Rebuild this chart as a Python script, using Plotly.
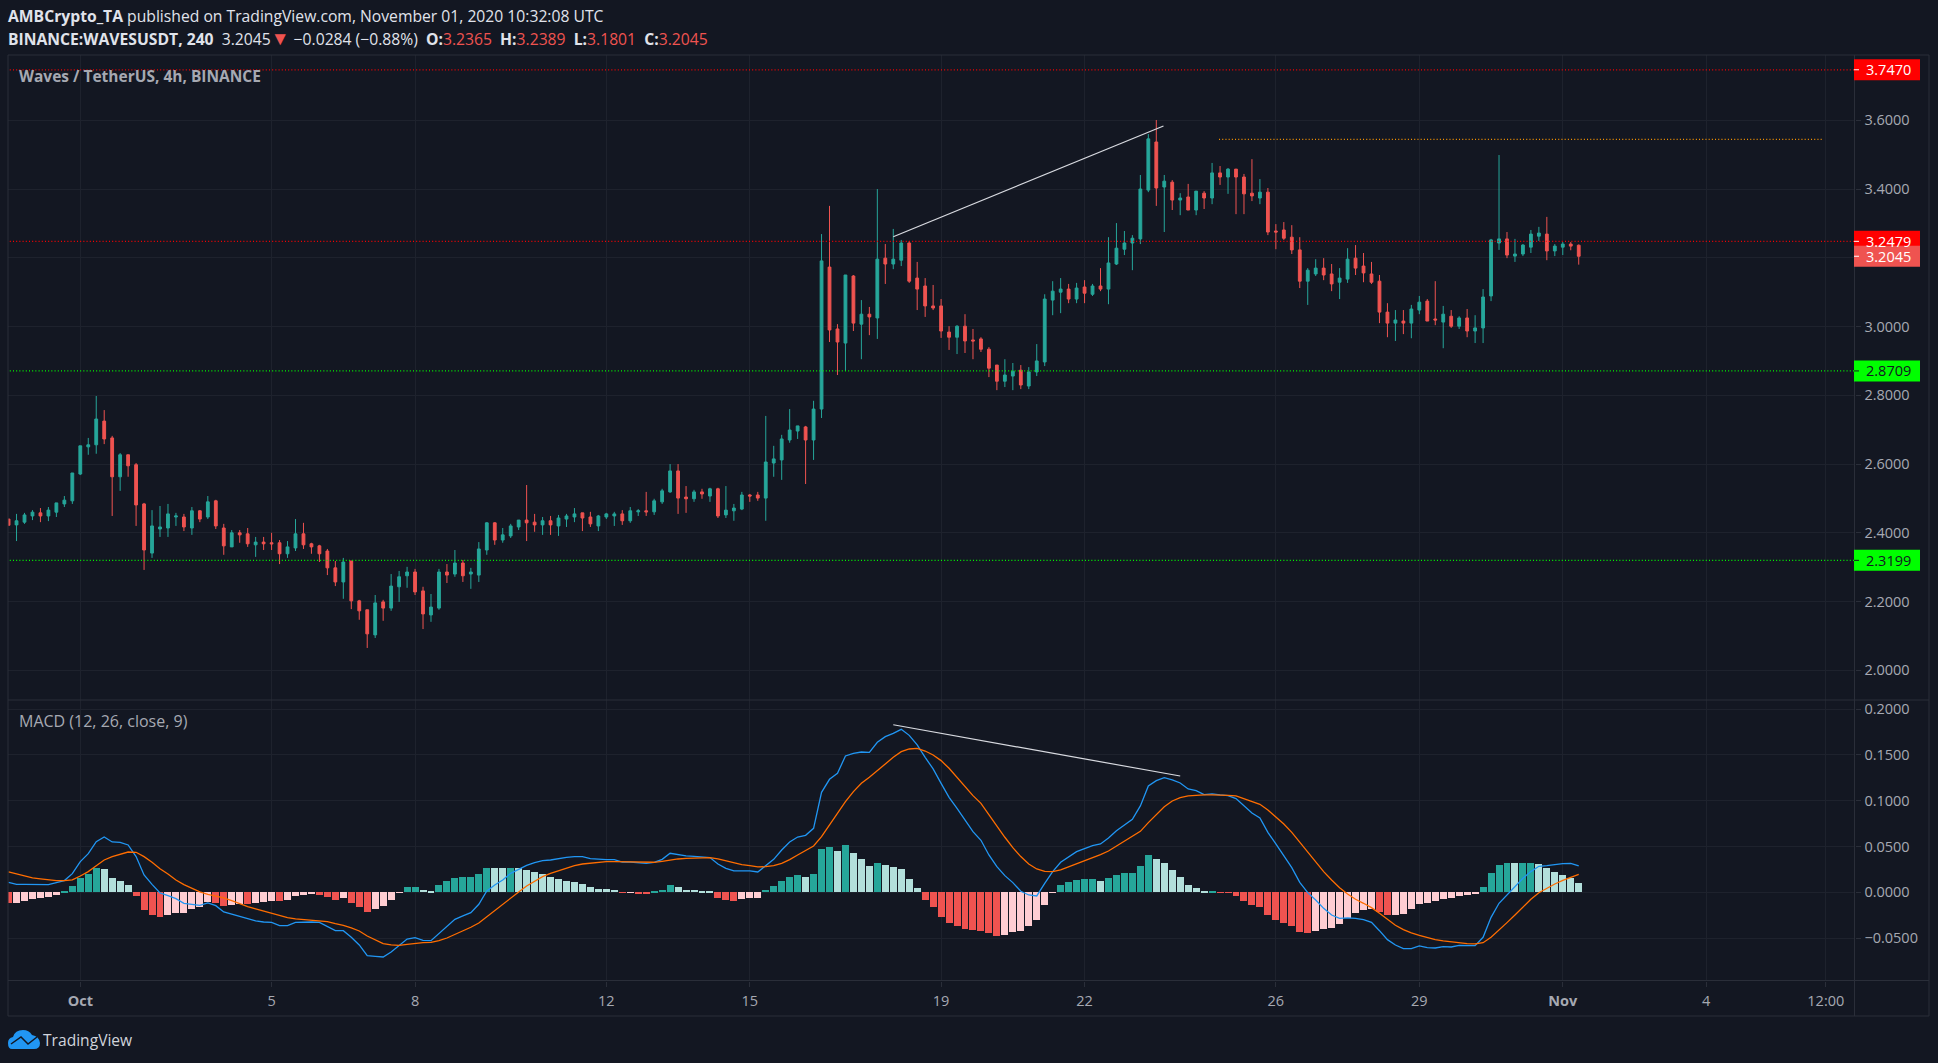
import pandas as pd
import plotly.graph_objects as go

W, H = 1938, 1063

opens = [2.440,2.423,2.431,2.449,2.458,2.449,2.460,2.484,2.493,2.571,
2.650,2.656,2.725,2.676,2.563,2.627,2.598,2.484,2.341,2.411,
2.414,2.446,2.446,2.414,2.464,2.446,2.493,2.414,2.359,2.400,
2.397,2.365,2.373,2.371,2.371,2.339,2.356,2.397,2.368,2.362,
2.347,2.298,2.257,2.318,2.202,2.176,2.103,2.199,2.181,2.243,
2.275,2.286,2.231,2.161,2.181,2.286,2.280,2.312,2.280,2.277,
2.350,2.429,2.379,2.391,2.417,2.437,2.431,2.423,2.435,2.420,
2.440,2.446,2.458,2.446,2.420,2.446,2.449,2.455,2.435,2.461,
2.464,2.461,2.490,2.519,2.580,2.504,2.499,2.519,2.507,2.528,
2.452,2.464,2.469,2.510,2.510,2.501,2.603,2.612,2.670,2.696,
2.708,2.670,2.760,3.173,2.993,2.952,3.147,3.007,3.036,3.025,
3.199,3.182,3.193,3.243,3.141,3.118,3.060,3.060,2.984,2.969,
3.001,2.961,2.964,2.934,2.888,2.841,2.856,2.873,2.827,2.868,
2.897,3.077,3.100,3.109,3.080,3.115,3.094,3.118,3.109,3.182,
3.225,3.243,3.255,3.397,3.537,3.406,3.420,3.368,3.377,3.339,
3.388,3.374,3.447,3.435,3.458,3.435,3.388,3.374,3.391,3.278,
3.281,3.260,3.223,3.132,3.153,3.170,3.153,3.129,3.138,3.199,
3.176,3.153,3.132,3.042,3.010,3.016,3.010,3.048,3.074,3.022,
3.013,3.030,3.001,3.025,2.987,2.996,3.089,3.243,3.255,3.205,
3.211,3.231,3.263,3.269,3.220,3.231,3.240,3.2365]

highs = [2.440,2.455,2.458,2.466,2.472,2.475,2.487,2.507,2.574,2.653,
2.676,2.798,2.757,2.682,2.632,2.627,2.603,2.487,2.466,2.478,
2.484,2.458,2.455,2.475,2.466,2.507,2.496,2.426,2.408,2.408,
2.414,2.388,2.388,2.400,2.379,2.376,2.440,2.429,2.371,2.365,
2.353,2.318,2.327,2.318,2.205,2.176,2.219,2.205,2.280,2.289,
2.301,2.295,2.243,2.222,2.295,2.309,2.350,2.321,2.298,2.373,
2.431,2.431,2.414,2.426,2.437,2.539,2.455,2.446,2.449,2.452,
2.455,2.472,2.458,2.461,2.452,2.458,2.461,2.466,2.475,2.469,
2.519,2.499,2.528,2.600,2.600,2.536,2.525,2.528,2.531,2.531,
2.536,2.484,2.519,2.513,2.519,2.740,2.653,2.685,2.760,2.711,
2.711,2.784,3.269,3.351,3.007,3.150,3.150,3.077,3.057,3.400,
3.240,3.284,3.252,3.249,3.188,3.141,3.121,3.080,3.001,3.004,
3.036,2.993,2.969,2.940,2.888,2.905,2.894,2.888,2.882,2.949,
3.094,3.132,3.141,3.124,3.127,3.135,3.124,3.170,3.260,3.301,
3.278,3.266,3.441,3.560,3.601,3.441,3.426,3.388,3.415,3.394,
3.394,3.476,3.467,3.461,3.458,3.444,3.487,3.429,3.403,3.298,
3.304,3.295,3.260,3.170,3.196,3.199,3.182,3.170,3.228,3.237,
3.214,3.188,3.150,3.068,3.048,3.048,3.063,3.089,3.080,3.132,
3.060,3.048,3.030,3.051,3.033,3.109,3.255,3.499,3.275,3.255,
3.240,3.281,3.290,3.319,3.240,3.246,3.246,3.2389]

lows = [2.422,2.376,2.426,2.437,2.431,2.434,2.446,2.475,2.484,2.568,
2.627,2.630,2.658,2.449,2.522,2.563,2.420,2.292,2.327,2.388,
2.388,2.420,2.405,2.394,2.431,2.440,2.411,2.336,2.359,2.371,
2.359,2.330,2.350,2.350,2.309,2.327,2.347,2.353,2.339,2.315,
2.277,2.245,2.208,2.178,2.147,2.065,2.094,2.144,2.173,2.199,
2.240,2.219,2.120,2.141,2.176,2.254,2.272,2.257,2.237,2.257,
2.336,2.365,2.371,2.385,2.408,2.376,2.403,2.394,2.394,2.391,
2.417,2.431,2.405,2.417,2.405,2.440,2.420,2.423,2.429,2.449,
2.449,2.452,2.484,2.516,2.455,2.458,2.490,2.499,2.490,2.443,
2.443,2.435,2.466,2.490,2.493,2.435,2.563,2.554,2.662,2.673,
2.542,2.612,2.734,2.955,2.859,2.871,2.987,2.905,2.975,2.964,
3.124,3.167,3.176,3.127,3.048,3.028,3.048,2.967,2.932,2.920,
2.923,2.905,2.926,2.853,2.815,2.824,2.815,2.818,2.818,2.856,
2.885,3.033,3.039,3.068,3.068,3.068,3.089,3.103,3.065,3.179,
3.208,3.164,3.240,3.391,3.351,3.275,3.339,3.324,3.339,3.324,
3.342,3.356,3.412,3.386,3.327,3.327,3.365,3.356,3.266,3.225,
3.252,3.211,3.112,3.063,3.147,3.135,3.103,3.080,3.127,3.150,
3.129,3.124,3.010,2.969,2.958,2.978,2.966,3.036,3.016,3.004,
2.937,2.996,2.993,2.969,2.952,2.952,3.074,3.223,3.199,3.188,
3.205,3.214,3.249,3.193,3.205,3.208,3.222,3.1801]

closes = [2.422,2.435,2.452,2.460,2.449,2.466,2.487,2.495,2.574,2.653,
2.656,2.731,2.673,2.563,2.627,2.595,2.481,2.350,2.420,2.417,
2.455,2.449,2.417,2.464,2.440,2.490,2.420,2.362,2.400,2.394,
2.368,2.373,2.368,2.368,2.339,2.359,2.397,2.365,2.359,2.339,
2.298,2.257,2.315,2.202,2.173,2.106,2.196,2.181,2.245,2.272,
2.286,2.228,2.164,2.184,2.286,2.277,2.312,2.275,2.286,2.353,
2.429,2.379,2.394,2.420,2.437,2.429,2.423,2.435,2.423,2.443,
2.449,2.455,2.443,2.426,2.449,2.455,2.455,2.435,2.464,2.464,
2.461,2.493,2.522,2.580,2.501,2.499,2.519,2.513,2.528,2.449,
2.466,2.472,2.510,2.507,2.501,2.606,2.615,2.673,2.699,2.711,
2.670,2.760,3.191,2.990,2.955,3.150,3.010,3.036,3.028,3.196,
3.182,3.196,3.243,3.132,3.109,3.060,3.054,2.987,2.969,3.001,
2.958,2.958,2.934,2.879,2.841,2.859,2.870,2.830,2.868,2.900,
3.080,3.103,3.109,3.080,3.112,3.097,3.118,3.109,3.185,3.228,
3.243,3.257,3.400,3.546,3.403,3.423,3.368,3.374,3.339,3.394,
3.374,3.447,3.435,3.458,3.435,3.386,3.380,3.391,3.275,3.275,
3.257,3.223,3.132,3.164,3.170,3.150,3.124,3.141,3.196,3.170,
3.156,3.129,3.042,3.010,3.019,3.010,3.051,3.071,3.016,3.019,
3.036,3.001,3.025,2.987,2.996,3.086,3.252,3.255,3.208,3.211,
3.237,3.269,3.272,3.220,3.234,3.240,3.234,3.2045]

hist = [-.0120,-.0117,-.0095,-.0073,-.0062,-.0051,-.0029,.0007,.0069,.0157,
.0200,.0266,.0255,.0157,.0124,.0080,-.0040,-.0193,-.0248,-.0270,
-.0248,-.0226,-.0225,-.0182,-.0160,-.0106,-.0117,-.0149,-.0138,-.0128,
-.0129,-.0117,-.0106,-.0095,-.0096,-.0084,-.0040,-.0029,-.0018,-.0029,
-.0051,-.0084,-.0062,-.0117,-.0160,-.0215,-.0182,-.0149,-.0084,-.0007,
.0058,.0059,.0026,.0015,.0080,.0124,.0157,.0168,.0169,.0200,
.0266,.0265,.0265,.0266,.0265,.0244,.0222,.0200,.0168,.0146,
.0124,.0113,.0091,.0058,.0036,.0035,.0026,-.0005,-.0004,-.0015,
-.0016,.0004,.0026,.0080,.0058,.0026,.0025,.0015,.0004,-.0062,
-.0084,-.0095,-.0073,-.0062,-.0061,.0026,.0069,.0124,.0168,.0189,
.0168,.0200,.0474,.0495,.0452,.0517,.0430,.0364,.0288,.0321,
.0299,.0277,.0255,.0146,.0047,-.0084,-.0160,-.0270,-.0335,-.0368,
-.0401,-.0412,-.0423,-.0444,-.0477,-.0466,-.0434,-.0423,-.0368,-.0302,
-.0138,-.0007,.0080,.0113,.0135,.0146,.0147,.0124,.0157,.0189,
.0211,.0212,.0288,.0408,.0364,.0321,.0244,.0168,.0080,.0047,
.0004,.0015,-.0004,-.0005,-.0040,-.0095,-.0138,-.0160,-.0248,-.0302,
-.0335,-.0368,-.0434,-.0444,-.0423,-.0401,-.0390,-.0346,-.0280,-.0226,
-.0193,-.0182,-.0215,-.0248,-.0247,-.0237,-.0182,-.0128,-.0117,-.0095,
-.0073,-.0062,-.0040,-.0029,-.0018,.0058,.0211,.0299,.0320,.0319,
.0321,.0322,.0310,.0266,.0222,.0189,.0157,.0102]

macd = [.0109,.0087,.0087,.0087,.0084,.0084,.0106,.0128,.0204,.0335,
.0422,.0553,.0604,.0550,.0546,.0517,.0390,.0189,.0087,-.0007,
-.0036,-.0069,-.0120,-.0127,-.0142,-.0116,-.0146,-.0215,-.0240,-.0262,
-.0291,-.0313,-.0324,-.0328,-.0364,-.0364,-.0328,-.0324,-.0324,-.0328,
-.0371,-.0419,-.0419,-.0491,-.0575,-.0692,-.0699,-.0706,-.0652,-.0586,
-.0510,-.0495,-.0524,-.0528,-.0448,-.0379,-.0295,-.0258,-.0222,-.0131,
.0015,.0080,.0135,.0207,.0251,.0295,.0324,.0346,.0353,.0371,
.0382,.0389,.0390,.0368,.0360,.0357,.0357,.0331,.0331,.0320,
.0317,.0328,.0360,.0426,.0411,.0397,.0393,.0386,.0379,.0309,
.0262,.0233,.0233,.0233,.0222,.0288,.0360,.0462,.0550,.0604,
.0622,.0699,.1092,.1234,.1299,.1489,.1518,.1532,.1529,.1638,
.1700,.1736,.1780,.1714,.1609,.1474,.1347,.1190,.1037,.0917,
.0783,.0662,.0568,.0408,.0280,.0182,.0106,.0011,-.0029,-.0040,
.0098,.0226,.0328,.0382,.0444,.0477,.0510,.0528,.0593,.0673,
.0735,.0797,.0943,.1161,.1219,.1252,.1227,.1194,.1128,.1110,
.1067,.1074,.1063,.1056,.1023,.0943,.0866,.0812,.0655,.0528,
.0397,.0269,.0109,-.0004,-.0084,-.0175,-.0248,-.0284,-.0280,-.0284,
-.0298,-.0328,-.0419,-.0517,-.0575,-.0615,-.0615,-.0586,-.0604,-.0608,
-.0593,-.0597,-.0579,-.0582,-.0582,-.0491,-.0273,-.0120,-.0029,.0069,
.0153,.0226,.0284,.0291,.0306,.0313,.0317,.0288]

signal = [.0222,.0200,.0178,.0157,.0146,.0135,.0127,.0127,.0135,.0178,
.0226,.0291,.0353,.0390,.0419,.0440,.0437,.0390,.0328,.0258,
.0200,.0135,.0084,.0040,.0004,-.0022,-.0040,-.0062,-.0091,-.0127,
-.0157,-.0182,-.0207,-.0233,-.0255,-.0277,-.0291,-.0298,-.0302,-.0309,
-.0320,-.0342,-.0360,-.0389,-.0422,-.0477,-.0520,-.0561,-.0575,-.0579,
-.0568,-.0557,-.0550,-.0546,-.0528,-.0499,-.0462,-.0422,-.0382,-.0335,
-.0266,-.0200,-.0127,-.0062,.0004,.0069,.0124,.0171,.0207,.0237,
.0266,.0291,.0309,.0320,.0328,.0335,.0335,.0335,.0331,.0328,
.0328,.0328,.0339,.0353,.0364,.0371,.0375,.0379,.0379,.0364,
.0342,.0320,.0302,.0291,.0277,.0280,.0291,.0317,.0357,.0408,
.0455,.0506,.0608,.0735,.0852,.0990,.1099,.1190,.1256,.1329,
.1401,.1474,.1536,.1565,.1572,.1543,.1500,.1438,.1354,.1256,
.1161,.1056,.0972,.0845,.0724,.0601,.0488,.0390,.0309,.0255,
.0229,.0226,.0244,.0277,.0309,.0346,.0379,.0411,.0451,.0506,
.0561,.0608,.0666,.0761,.0848,.0935,.0997,.1034,.1052,.1059,
.1063,.1063,.1063,.1059,.1052,.1023,.0994,.0961,.0899,.0826,
.0746,.0655,.0546,.0433,.0328,.0226,.0135,.0051,-.0018,-.0076,
-.0120,-.0167,-.0229,-.0298,-.0360,-.0408,-.0444,-.0470,-.0495,-.0517,
-.0531,-.0542,-.0553,-.0561,-.0564,-.0550,-.0491,-.0415,-.0331,-.0248,
-.0160,-.0076,-.0004,.0047,.0091,.0131,.0164,.0197]

times = pd.date_range("2020-09-29 12:00", periods=len(closes), freq="4h")

tick_dates = ["2020-10-01","2020-10-05","2020-10-08","2020-10-12","2020-10-15","2020-10-19",
              "2020-10-22","2020-10-26","2020-10-29","2020-11-01","2020-11-04","2020-11-06 12:00"]
tick_labels = ["<b>Oct</b>","5","8","12","15","19","22","26","29","<b>Nov</b>","4","12:00"]
price_ticks = [2.0,2.2,2.4,2.6,2.8,3.0,3.2,3.4,3.6]
macd_ticks = [-0.05,0,0.05,0.1,0.15,0.2]

price_levels = [3.7470, 3.2479, 2.8709, 2.3199]
level_colors = ["#ff0000", "#ff0000", "#00ff00", "#00ff00"]
resistance_x = ["2020-10-24 19:30", "2020-11-06 11:00"]
resistance_y = [3.5447, 3.5447]
price_trend_x = ["2020-10-18 00:00", "2020-10-23 15:36"]
price_trend_y = [3.2614, 3.5834]
macd_trend_x = ["2020-10-18 00:00", "2020-10-24 00:00"]
macd_trend_y = [0.1830, 0.1270]

BG = "#131722"
GRID = "#1e222d"
BORDER = "#2a2e39"
TICKTXT = "#a6a9b2"
UP, DOWN = "#26a69a", "#ef5350"
FONT = "Open Sans"
TREND = "#d8dae0"
DOTS = "1px,2.2px"

def px(x): return x / W
def py(y): return 1 - y / H

# TradingView histogram colouring rule
hist_colors = []
for i, v in enumerate(hist):
    rising = i > 0 and hist[i - 1] < v
    if v >= 0:
        hist_colors.append(UP if rising else "#b2dfdb")
    else:
        hist_colors.append("#ffcdd2" if rising else DOWN)

fig = go.Figure()
fig.add_trace(go.Candlestick(
    x=times, open=opens, high=highs, low=lows, close=closes, xaxis="x", yaxis="y",
    increasing=dict(line=dict(color=UP, width=1), fillcolor=UP),
    decreasing=dict(line=dict(color=DOWN, width=1), fillcolor=DOWN),
    whiskerwidth=0, hoverinfo="skip", showlegend=False))
fig.add_trace(go.Scatter(x=price_trend_x, y=price_trend_y, mode="lines", xaxis="x", yaxis="y",
                         line=dict(color=TREND, width=1.2), hoverinfo="skip", showlegend=False))
fig.add_trace(go.Scatter(x=resistance_x, y=resistance_y, mode="lines", xaxis="x", yaxis="y",
                         line=dict(color="#ff9800", width=1.2, dash=DOTS), hoverinfo="skip", showlegend=False))
for lvl, col in zip(price_levels, level_colors):
    fig.add_trace(go.Scatter(x=[times[0] - pd.Timedelta(hours=1), pd.Timestamp("2020-11-07 03:00")], y=[lvl, lvl],
                             mode="lines", xaxis="x", yaxis="y", cliponaxis=True,
                             line=dict(color=col, width=1.2, dash=DOTS), hoverinfo="skip", showlegend=False))
fig.add_trace(go.Bar(x=times, y=hist, xaxis="x2", yaxis="y2", width=12600000,
                     marker=dict(color=hist_colors, line=dict(width=0)), hoverinfo="skip", showlegend=False))
fig.add_trace(go.Scatter(x=times, y=macd, mode="lines", xaxis="x2", yaxis="y2",
                         line=dict(color="#2196f3", width=1.3), hoverinfo="skip", showlegend=False))
fig.add_trace(go.Scatter(x=times, y=signal, mode="lines", xaxis="x2", yaxis="y2",
                         line=dict(color="#ff6d00", width=1.3), hoverinfo="skip", showlegend=False))
fig.add_trace(go.Scatter(x=macd_trend_x, y=macd_trend_y, mode="lines", xaxis="x2", yaxis="y2",
                         line=dict(color=TREND, width=1.2), hoverinfo="skip", showlegend=False))

x_range = ["2020-09-29 11:43", "2020-11-07 02:24"]
x_domain = [px(8), px(1854.5)]
common_x = dict(range=x_range, type="date", showgrid=True, gridcolor=GRID, gridwidth=1,
                zeroline=False, tickmode="array", tickvals=tick_dates, ticktext=tick_labels,
                domain=x_domain, showline=False, rangeslider=dict(visible=False), fixedrange=True)
common_y = dict(side="right", showgrid=True, gridcolor=GRID, gridwidth=1, zeroline=False, showline=False,
                ticks="outside", ticklen=5, tickcolor=BORDER, tickwidth=1, tickformat=".4f",
                tickfont=dict(family=FONT, size=14.5, color=TICKTXT), ticklabelstandoff=1,
                tickmode="array", fixedrange=True)

shapes = []
def frame(x0, y0, x1, y1):
    shapes.append(dict(type="line", xref="paper", yref="paper", x0=px(x0), y0=py(y0), x1=px(x1), y1=py(y1),
                       line=dict(color=BORDER, width=1), layer="above"))
frame(8, 55, 1929, 55)
frame(8, 55, 8, 1016)
frame(1929, 55, 1929, 1016)
frame(8, 1016, 1929, 1016)
frame(8, 700, 1929, 700)
frame(8, 980.5, 1929, 980.5)
frame(1854.5, 55, 1854.5, 1016)

annots = []
# price-axis badges
badges = [(3.7470, "#ff0000", "#ffffff"), (3.2479, "#ff0000", "#ffffff"),
          (3.2045, DOWN, "#ffffff"), (2.8709, "#00ff00", "#131722"), (2.3199, "#00ff00", "#131722")]
half = 10.5 / 343.75
for val, col, txt in badges:
    shapes.append(dict(type="rect", xref="paper", yref="y", x0=px(1854), x1=px(1920),
                       y0=val - half, y1=val + half, fillcolor=col, line=dict(width=0), layer="above"))
    shapes.append(dict(type="line", xref="paper", yref="y", x0=px(1854), x1=px(1859), y0=val, y1=val,
                       line=dict(color=txt, width=1), layer="above"))
    annots.append(dict(xref="paper", yref="y", x=px(1863.5), y=val, text=f"{val:.4f}", showarrow=False,
                       xanchor="left", yanchor="middle", font=dict(family=FONT, size=14.5, color=txt)))

def label(x, y, text, size=14, color="#e0e3eb"):
    annots.append(dict(xref="paper", yref="paper", x=px(x), y=py(y), text=text, showarrow=False,
                       xanchor="left", yanchor="middle", font=dict(family=FONT, size=size, color=color)))

red = lambda s: f'<span style="color:{DOWN}">{s}</span>'
tri = f'<span style="color:{DOWN};font-size:19px">▼</span>'
label(6, 16, "<b>AMBCrypto_TA</b> published on TradingView.com, November 01, 2020 10:32:08 UTC", 15.7)
label(6, 38, "<b>BINANCE:WAVESUSDT, 240</b>&nbsp; 3.2045" + tri + " −0.0284 (−0.88%)&nbsp; "
      + "<b>O:</b>" + red("3.2365") + "&nbsp; <b>H:</b>" + red("3.2389") + "&nbsp; <b>L:</b>" + red("3.1801")
      + "&nbsp; <b>C:</b>" + red("3.2045"), 15.7)
label(17, 76, "<b>Waves / TetherUS, 4h, BINANCE</b>", 15.5, TICKTXT)
label(17, 721, "MACD (12, 26, close, 9)", 16, TICKTXT)
label(41, 1040, "TradingView", 15.6, "#d1d4dc")

# logo
def P(x, y): return f"{px(x)},{py(y)}"
cloud = (f"M {P(12,1049)} Q {P(8,1049)} {P(8,1043)} Q {P(8,1038)} {P(13,1037)} Q {P(15,1030)} {P(23,1030)} "
         f"Q {P(29,1030)} {P(32,1035)} Q {P(39,1036)} {P(40,1043)} Q {P(40,1049)} {P(34,1049)} Z")
shapes.append(dict(type="path", xref="paper", yref="paper", path=cloud, fillcolor="#2196f3", line=dict(width=0), layer="above"))
zig = f"M {P(11,1044)} L {P(21,1037)} L {P(28,1044)} L {P(37,1037)}"
shapes.append(dict(type="path", xref="paper", yref="paper", path=zig, line=dict(color="#131722", width=1.5), layer="above"))

fig.update_layout(
    width=W, height=H, autosize=False, margin=dict(l=0, r=0, t=0, b=0),
    paper_bgcolor=BG, plot_bgcolor=BG, showlegend=False, boxgap=0.5, bargap=0,
    font=dict(family=FONT, color=TICKTXT),
    xaxis=dict(common_x, anchor="y", showticklabels=False, ticks=""),
    xaxis2=dict(common_x, anchor="y2", showticklabels=True, ticks="outside", ticklen=5, tickcolor=BORDER,
                tickfont=dict(family=FONT, size=14.5, color=TICKTXT), ticklabelstandoff=2, tickangle=0),
    yaxis=dict(common_y, anchor="x", domain=[py(700), py(55)], range=[1.9136, 3.79], tickvals=price_ticks),
    yaxis2=dict(common_y, anchor="x2", domain=[py(980.5), py(700)], range=[-0.0963, 0.21], tickvals=macd_ticks),
    shapes=shapes, annotations=annots,
)

fig.write_html("out.html", config=dict(displayModeBar=False),
               post_script="document.body.style.margin='0';document.body.style.background='#131722';document.documentElement.style.overflow='hidden';")
